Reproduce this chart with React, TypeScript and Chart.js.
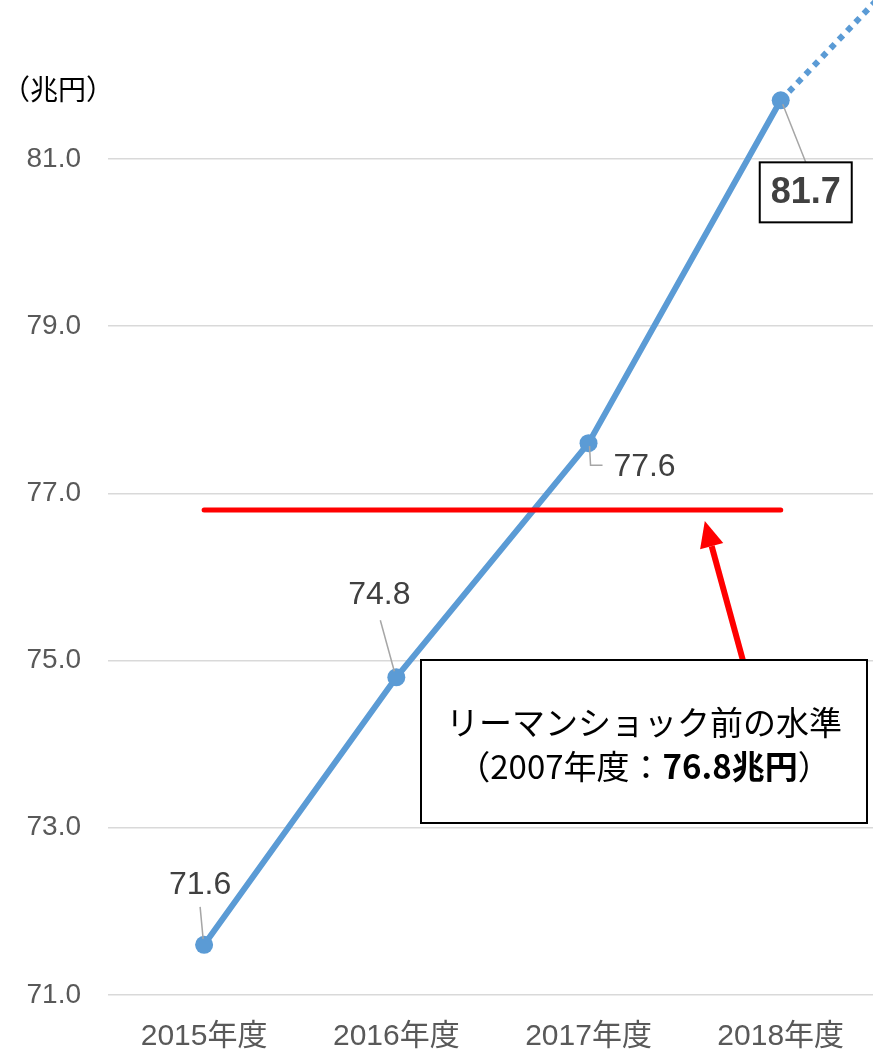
import React, { useEffect, useRef } from "react";
import { Chart, registerables } from "chart.js";

Chart.register(...registerables);

// ---- Data ----
const years = ["2015年度", "2016年度", "2017年度", "2018年度"];
const gdp = [71.6, 74.8, 77.6, 81.7];
const projectionValue = 84.1; // dotted continuation toward the next year
const preLehmanLevel = 76.8;
const yTickValues = [71, 73, 75, 77, 79, 81];
const unitLabel = "（兆円）";
const noteLine1 = "リーマンショック前の水準";
const noteLine2 = [
  { text: "（2007年度：", bold: false },
  { text: "76.8兆円", bold: true },
  { text: "）", bold: false },
];

const LATIN = '"Liberation Sans", "Noto Sans CJK JP", sans-serif';
const CJK = '"Noto Sans CJK JP", "Liberation Sans", sans-serif';
const BLUE = "#5B9BD5";

// label placement relative to each point (styling only)
const labelOffsets = [
  { dx: -4, dy: -61, leader: [[-4, -38], [-1, -6]] },
  { dx: -17, dy: -83, leader: [[-16, -57], [-2, -6]] },
  { dx: 56, dy: 23, leader: [[1, 3], [2, 22], [14, 22]] },
  { dx: 25, dy: 92, leader: [[2, 4], [25, 62]] },
];

const zeroPad = (s: any) => {
  s.paddingTop = 0;
  s.paddingBottom = 0;
  s.paddingLeft = 0;
  s.paddingRight = 0;
};

const annotPlugin = {
  id: "annot",
  afterDraw(chart: any) {
    const ctx = chart.ctx as CanvasRenderingContext2D;
    const meta = chart.getDatasetMeta(1);
    const yScale = chart.scales.y;
    const xScale = chart.scales.x;
    ctx.save();

    // unit label
    ctx.fillStyle = "#000";
    ctx.font = `28px ${CJK}`;
    ctx.textAlign = "left";
    ctx.textBaseline = "middle";
    ctx.fillText(unitLabel, 2, 89);

    // data labels
    meta.data.forEach((pt: any, i: number) => {
      const o = labelOffsets[i];
      const px = pt.x, py = pt.y;
      ctx.strokeStyle = "#A6A6A6";
      ctx.lineWidth = 1.5;
      ctx.beginPath();
      o.leader.forEach((p, k) => {
        if (k === 0) ctx.moveTo(px + p[0], py + p[1]);
        else ctx.lineTo(px + p[0], py + p[1]);
      });
      ctx.stroke();
      const text = gdp[i].toFixed(1);
      const cx = px + o.dx, cy = py + o.dy;
      if (i === gdp.length - 1) {
        ctx.fillStyle = "#fff";
        ctx.fillRect(cx - 46, cy - 30, 92, 60);
        ctx.strokeStyle = "#000";
        ctx.lineWidth = 2;
        ctx.strokeRect(cx - 46, cy - 30, 92, 60);
        ctx.fillStyle = "#404040";
        ctx.font = `bold 36px ${LATIN}`;
      } else {
        ctx.fillStyle = "#404040";
        ctx.font = `32px ${LATIN}`;
      }
      ctx.textAlign = "center";
      ctx.textBaseline = "middle";
      ctx.fillText(text, cx, cy + 1);
    });

    // red arrow
    const tipY = yScale.getPixelForValue(preLehmanLevel) + 11;
    const tipX = xScale.getPixelForValue(2.605);
    const baseX = tipX + 38, baseY = 660;
    const ang = Math.atan2(tipY - baseY, tipX - baseX);
    const headLen = 26, headW = 12;
    const hx = tipX - headLen * Math.cos(ang), hy = tipY - headLen * Math.sin(ang);
    ctx.strokeStyle = "#FF0000";
    ctx.fillStyle = "#FF0000";
    ctx.lineWidth = 6;
    ctx.beginPath();
    ctx.moveTo(baseX, baseY);
    ctx.lineTo(hx, hy);
    ctx.stroke();
    ctx.beginPath();
    ctx.moveTo(tipX, tipY);
    ctx.lineTo(hx + headW * Math.sin(ang), hy - headW * Math.cos(ang));
    ctx.lineTo(hx - headW * Math.sin(ang), hy + headW * Math.cos(ang));
    ctx.closePath();
    ctx.fill();

    // note box
    const bx = 421, by = 660, bw = 446, bh = 163;
    ctx.fillStyle = "#fff";
    ctx.fillRect(bx, by, bw, bh);
    ctx.strokeStyle = "#000";
    ctx.lineWidth = 2;
    ctx.strokeRect(bx, by, bw, bh);
    const centerX = bx + bw / 2;
    ctx.fillStyle = "#000";
    ctx.font = `33px ${CJK}`;
    ctx.textAlign = "center";
    ctx.textBaseline = "middle";
    ctx.fillText(noteLine1, centerX, 722);
    // line 2 mixed weight
    let total = 0;
    const widths = noteLine2.map((s) => {
      ctx.font = `${s.bold ? "bold " : ""}33px ${CJK}`;
      const w = ctx.measureText(s.text).width;
      total += w;
      return w;
    });
    let x = centerX - total / 2;
    ctx.textAlign = "left";
    noteLine2.forEach((s, k) => {
      ctx.font = `${s.bold ? "bold " : ""}33px ${CJK}`;
      ctx.fillText(s.text, x, 766);
      x += widths[k];
    });
    ctx.restore();
  },
};

export default function App() {
  const ref = useRef<HTMLCanvasElement | null>(null);
  useEffect(() => {
    if (!ref.current) return;
    const chart = new Chart(ref.current, {
      type: "line",
      data: {
        datasets: [
          {
            label: "preLehman",
            data: [
              { x: 0, y: preLehmanLevel },
              { x: years.length - 1, y: preLehmanLevel },
            ],
            borderColor: "#FF0000",
            borderWidth: 5,
            borderCapStyle: "round",
            pointRadius: 0,
          },
          {
            label: "gdp",
            data: gdp.map((v, i) => ({ x: i, y: v })),
            borderColor: BLUE,
            backgroundColor: BLUE,
            borderWidth: 6,
            pointRadius: 9,
            pointBackgroundColor: BLUE,
            pointBorderWidth: 0,
          },
          {
            label: "projection",
            data: [
              { x: years.length - 1, y: gdp[gdp.length - 1] },
              { x: years.length, y: projectionValue },
            ],
            borderColor: BLUE,
            borderWidth: 6,
            borderDash: [6, 6],
            pointRadius: 0,
          },
        ] as any,
      },
      options: {
        animation: false,
        responsive: false,
        devicePixelRatio: 1,
        layout: { padding: 0, autoPadding: false },
        plugins: { legend: { display: false }, tooltip: { enabled: false } },
        scales: {
          x: {
            type: "linear",
            min: -0.5,
            max: 3.48,
            grid: { display: false, drawTicks: false },
            border: { display: false },
            afterBuildTicks: (s: any) => {
              s.ticks = years.map((_, i) => ({ value: i }));
            },
            afterFit: (s: any) => {
              s.height = 56;
              zeroPad(s);
            },
            ticks: {
              autoSkip: false,
              maxRotation: 0,
              padding: 24,
              color: "#595959",
              font: { size: 30, family: LATIN },
              callback: (v: any) => years[v] ?? "",
            },
          },
          y: {
            min: 71,
            max: 82.9,
            grid: { color: "#D9D9D9", lineWidth: 1.5, drawTicks: false },
            border: { display: false },
            afterBuildTicks: (s: any) => {
              s.ticks = yTickValues.map((v) => ({ value: v }));
            },
            afterFit: (s: any) => {
              s.width = 108;
              zeroPad(s);
            },
            ticks: {
              padding: 27,
              color: "#595959",
              font: { size: 28, family: LATIN },
              callback: (v: any) => Number(v).toFixed(1),
            },
          },
        },
      } as any,
      plugins: [annotPlugin],
    });
    return () => chart.destroy();
  }, []);
  return (
    <div style={{ position: "absolute", left: 0, top: 0, width: 873, height: 1051, background: "#fff" }}>
      <canvas ref={ref} width={873} height={1051} />
    </div>
  );
}
